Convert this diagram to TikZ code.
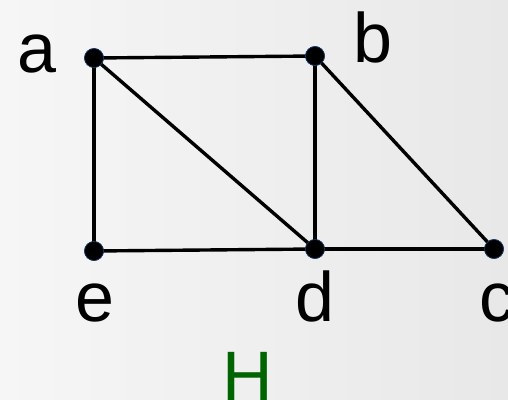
\documentclass[tikz,border=0pt]{standalone}
\usepackage{fontspec}
\setmainfont{Liberation Sans}
\definecolor{bgl}{HTML}{F6F6F6}
\definecolor{bgr}{HTML}{E8E8E8}
\definecolor{hgreen}{HTML}{006400}
\definecolor{dotrim}{HTML}{1F3F6F}
\begin{document}
\begin{tikzpicture}[x=1pt,y=-1pt,
  vtx/.style={circle,fill=black,draw=dotrim,line width=0.6pt,inner sep=0pt,minimum size=19pt},
  lbl/.style={anchor=base,inner sep=0pt,font=\fontsize{70}{84}\selectfont},
  edge/.style={line width=3.4pt,black}]
\shade[left color=bgl,right color=bgr] (0,0) rectangle (508,399);
\useasboundingbox (0,0) rectangle (508,399);
\node[vtx] (a) at (94,58) {};
\node[vtx] (b) at (315,56) {};
\node[vtx] (e) at (94,251) {};
\node[vtx] (d) at (315,249) {};
\node[vtx] (c) at (494,249) {};
\draw[edge] (a.center) -- (b.center);
\draw[edge] (a.center) -- (e.center);
\draw[edge] (a.center) -- (d.center);
\draw[edge] (b.center) -- (d.center);
\draw[edge] (b.center) -- (c.center);
\draw[edge] (e.center) -- (d.center);
\draw[edge] (d.center) -- (c.center);
\foreach \n in {a,b,c,d,e} \node[vtx] at (\n) {};
\node[lbl] (la) at (37,72) {a};
\node[lbl] (lb) at (373,62) {b};
\node[lbl] (le) at (95,321) {e};
\node[lbl] (ld) at (315,321) {d};
\node[lbl] (lc) at (497,321) {c};
\node[lbl,text=hgreen] (lH) at (248,400) {H};
\end{tikzpicture}
\end{document}
